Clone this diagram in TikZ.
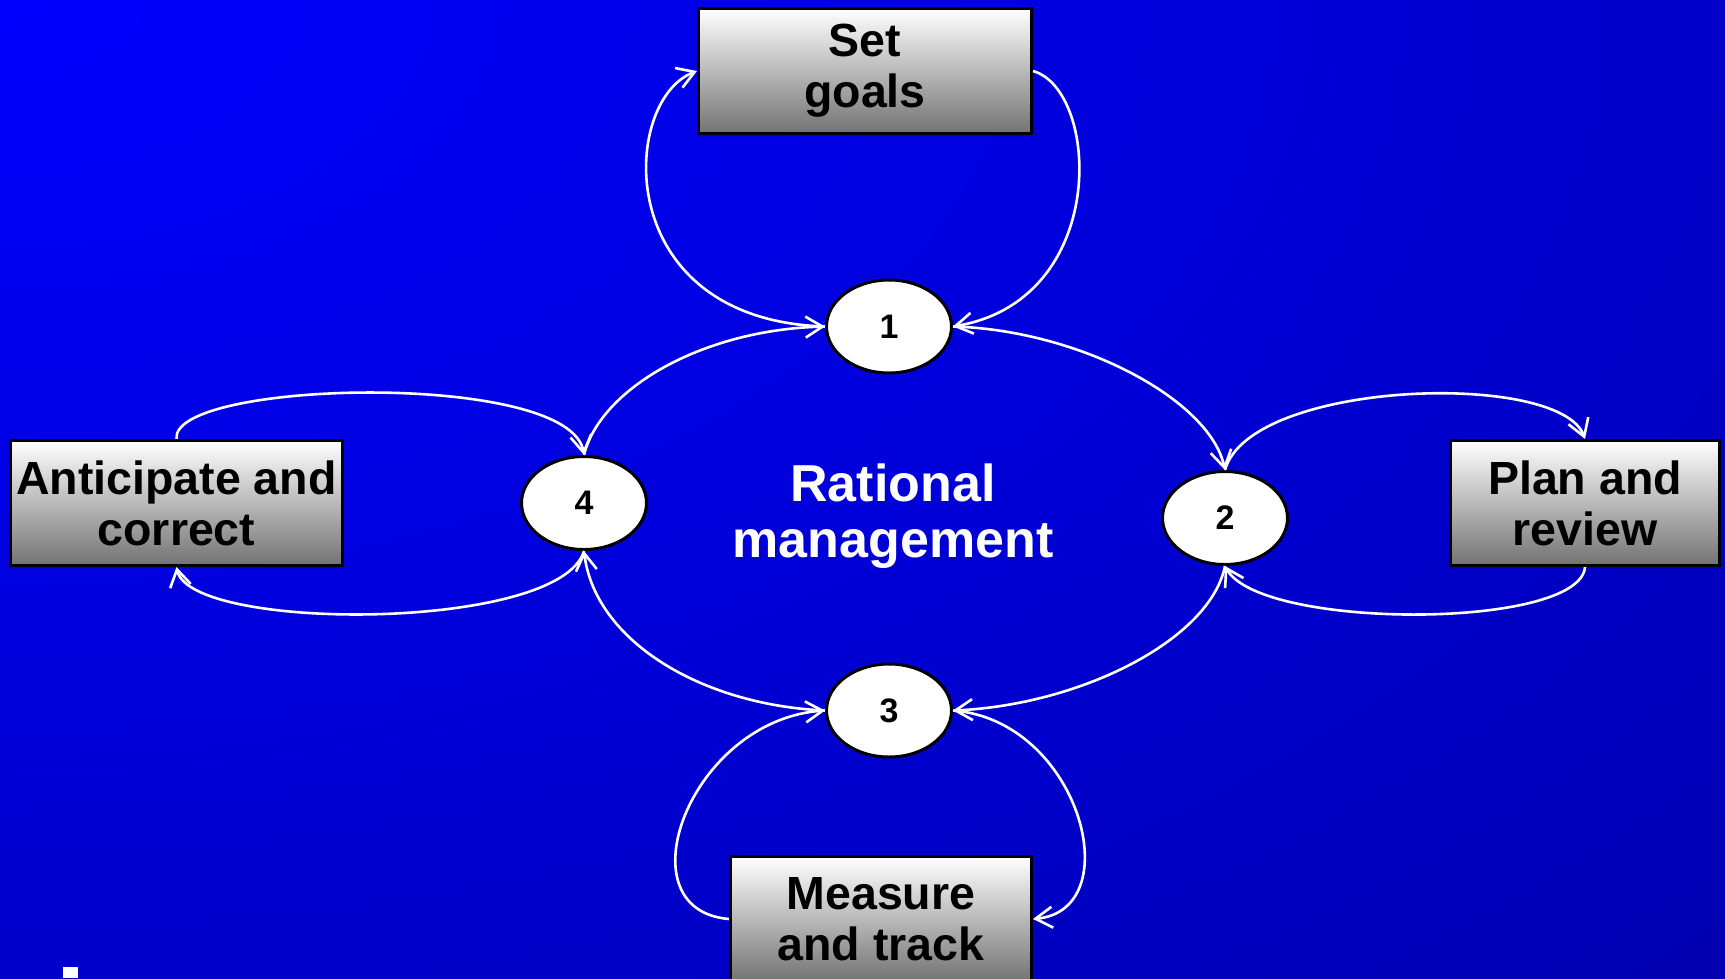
\documentclass[tikz,border=0pt]{standalone}
\usepackage{fontspec}
\setmainfont{Liberation Sans}
\usetikzlibrary{shapes.geometric,arrows.meta}
\pgfdeclareradialshading{bgshade}{\pgfpoint{0bp}{0bp}}{rgb(0bp)=(0,0,1);rgb(12.5bp)=(0,0,0.8);rgb(18bp)=(0,0,0.7);rgb(25bp)=(0,0,0.54);rgb(50bp)=(0,0,0.54)}
\definecolor{bgdark}{rgb}{0,0,0.54}
\tikzset{
  box/.style={draw=black, line width=3pt, top color=white, bottom color=black!55,
    minimum height=125pt, align=center, inner sep=0pt,
    font=\fontsize{46.5}{51}\selectfont\bfseries},
  ell/.style={ellipse, draw=black, line width=3pt, fill=white,
    minimum width=125pt, minimum height=93pt, inner sep=0pt,
    font=\fontsize{34}{40}\selectfont\bfseries},
  conn/.style={draw=white, line width=2.6pt, -{Straight Barb[length=17pt,width=21pt]}},
}
\begin{document}
\begin{tikzpicture}[x=1pt,y=-1pt]
\useasboundingbox (0,0) rectangle (1725,978);
\fill[bgdark] (0,0) rectangle (1725,978);
\begin{scope}
\clip (0,0) rectangle (1725,978);
\shade[shading=bgshade] (-3300,-1900) rectangle (3300,1900);
\end{scope}

% boxes
\node[box, minimum width=333pt] (sg) at (865,71) {Set\\goals};
\node[box, minimum width=332pt] (ant) at (176.5,503) {Anticipate and\\correct};
\node[box, minimum width=269pt] (pr) at (1585,503) {Plan and\\review};
\node[box, minimum width=301pt] (mt) at (881,919) {Measure\\and track};

% ellipses
\node[ell] (e1) at (889,326.5) {1};
\node[ell] (e2) at (1225,518) {2};
\node[ell] (e3) at (889,710.5) {3};
\node[ell] (e4) at (584,503) {4};

% centre text
\node[text=white, align=center, inner sep=0pt, font=\fontsize{52}{56}\selectfont\bfseries] (rm) at (893,516.5) {Rational\\management};

% connectors
\draw[conn] (e1.west) .. controls (610,320) and (620,100) .. (sg.west);
\draw[conn] (sg.east) .. controls (1100,90) and (1110,300) .. (e1.east);
\draw[conn] (e4.north) .. controls (600,390) and (700,330) .. (e1.west);
\draw[conn] (e1.east) .. controls (1080,330) and (1210,400) .. (e2.north);
\draw[conn] (e2.north) .. controls (1250,380) and (1560,370) .. (pr.north);
\draw[conn] (pr.south) .. controls (1580,630) and (1260,630) .. (e2.south);
\draw[conn] (e2.south) .. controls (1210,640) and (1080,705) .. (e3.east);
\draw[conn] (e3.east) .. controls (1080,720) and (1130,910) .. (mt.east);
\draw[conn] (mt.west) .. controls (620,910) and (690,720) .. (e3.west);
\draw[conn] (e3.west) .. controls (700,705) and (595,640) .. (e4.south);
\draw[conn] (e4.south) .. controls (560,632) and (190,632) .. (ant.south);
\draw[conn] (ant.north) .. controls (170,380) and (570,370) .. (e4.north);

% cut-off white mark at bottom left
\fill[white] (63,967) rectangle (78,978);
\end{tikzpicture}
\end{document}
